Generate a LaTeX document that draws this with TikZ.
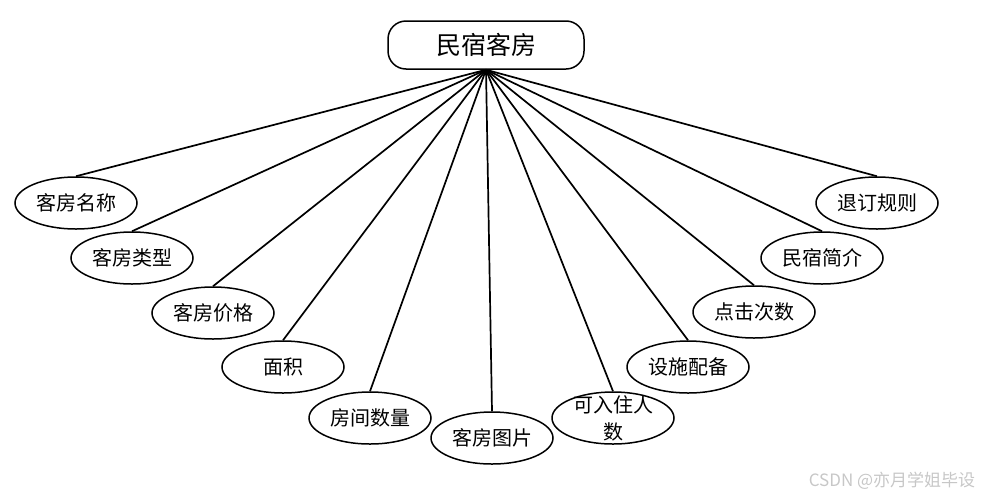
\documentclass[tikz,border=0pt]{standalone}
\usepackage{fontspec}
\setmainfont{Noto Sans CJK SC}
\usetikzlibrary{shapes.geometric}

\begin{document}
\begin{tikzpicture}[x=1pt,y=-1pt]
\tikzset{attr/.style={draw, ellipse, line width=1.5pt, minimum width=122pt, minimum height=52pt, inner sep=0pt, font=\fontsize{20}{27}\selectfont},
	entity/.style={draw, rounded corners=18pt, line width=1.5pt, minimum width=196pt, minimum height=48pt, font=\fontsize{25}{28}\selectfont},
	link/.style={line width=1.7pt},
	watermark/.style={text=black!22, font=\fontsize{17}{20}\selectfont}}
				\useasboundingbox (0,0) rectangle (987,501);
				\node[entity] (room) at (486,45) {民宿客房};
				\node[attr] (name) at (76,203) {客房名称};
				\node[attr] (type) at (132,258) {客房类型};
				\node[attr] (price) at (213,313) {客房价格};
				\node[attr] (area) at (283,367) {面积};
				\node[attr] (count) at (370,418) {房间数量};
				\node[attr] (photo) at (492,438) {客房图片};
				\node[attr] (guests) at (613,418) {};
				\node[align=center, font=\fontsize{20}{27}\selectfont] (guesttext) at (guests) {可入住人\\数};
				\node[attr] (facility) at (688,367) {设施配备};
				\node[attr] (clicks) at (754,312) {点击次数};
				\node[attr] (intro) at (822,258) {民宿简介};
				\node[attr] (refund) at (877,203) {退订规则};
				\node[watermark] (credit) at (892,481) {CSDN @亦月学姐毕设};
				\draw[link] (room.south) -- (name.north);
				\draw[link] (room.south) -- (type.north);
				\draw[link] (room.south) -- (price.north);
				\draw[link] (room.south) -- (area.north);
				\draw[link] (room.south) -- (count.north);
				\draw[link] (room.south) -- (photo.north);
				\draw[link] (room.south) -- (guests.north);
				\draw[link] (room.south) -- (facility.north);
				\draw[link] (room.south) -- (clicks.north);
				\draw[link] (room.south) -- (intro.north);
				\draw[link] (room.south) -- (refund.north);
\end{tikzpicture}
\end{document}
